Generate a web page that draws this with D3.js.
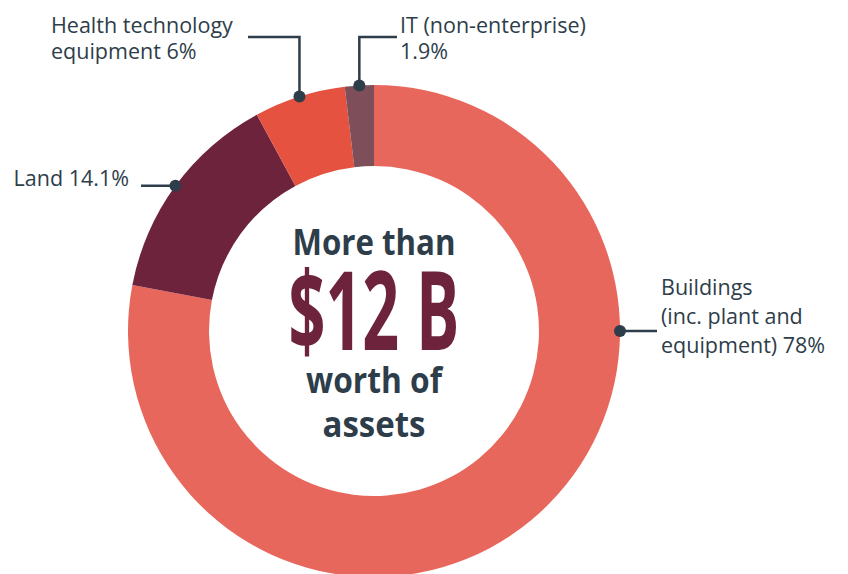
<!DOCTYPE html>
<html lang="en">

<head>
    <meta charset="UTF-8">
    <title>Asset breakdown</title>
    <style>
        body { margin: 0; background: #fff; }
    </style>
</head>

<body>
    <script src="https://cdn.jsdelivr.net/npm/d3@7"></script>
    <script>
        const svg_w = 848;
        const svg_h = 574;

        // data
        const categories = ['Buildings', 'Land', 'Health technology equipment', 'IT (non-enterprise)'];
        const shares = [78, 14.1, 6, 1.9];
        const colours = ['#e8675c', '#6e233c', '#e55240', '#7e4f5a'];
        const label_lines = [
            ['Buildings', '(inc. plant and', 'equipment) 78%'],
            ['Land 14.1%'],
            ['Health technology', 'equipment 6%'],
            ['IT (non-enterprise)', '1.9%']
        ];
        const centre_lines = ['More than', '$12 B', 'worth of', 'assets'];

        const cx = 374, cy = 331;
        const r_out = 246, r_in = 165;
        const ink = '#2e3d4a';

        const svg = d3.select('body')
            .append('svg')
            .attr('width', svg_w)
            .attr('height', svg_h);

        const pie = d3.pie().sort(null).value(d => d)(shares);
        const arc = d3.arc().innerRadius(r_in).outerRadius(r_out);

        const g = svg.append('g').attr('transform', `translate(${cx},${cy})`);

        g.selectAll('path')
            .data(pie)
            .enter()
            .append('path')
            .attr('d', arc)
            .attr('fill', (d, i) => colours[i]);

        // label layout: anchor angle (null = middle of slice), leader route, text spot
        const layout = [
            { angle: Math.PI / 2, leader: p => [[p[0], p[1]], [657, p[1]]], x: 661, y: 295, dy: 29, anchor: 'start' },
            { angle: null, leader: p => [[p[0], p[1]], [141, p[1]]], x: 129, y: 186, dy: 26, anchor: 'end' },
            { angle: null, leader: p => [[p[0], p[1]], [p[0], 37], [248, 37]], x: 51, y: 33, dy: 25.5, anchor: 'start' },
            { angle: null, leader: p => [[p[0], p[1]], [p[0], 37], [397, 37]], x: 400, y: 33, dy: 25.5, anchor: 'start' }
        ];

        pie.forEach((d, i) => {
            const L = layout[i];
            const a = L.angle === null ? (d.startAngle + d.endAngle) / 2 : L.angle;
            const p = [cx + r_out * Math.sin(a), cy - r_out * Math.cos(a)];

            svg.append('path')
                .attr('d', d3.line()(L.leader(p)))
                .attr('fill', 'none')
                .attr('stroke', ink)
                .attr('stroke-width', 2.5);

            svg.append('circle')
                .attr('cx', p[0])
                .attr('cy', p[1])
                .attr('r', 6)
                .attr('fill', ink);

            const t = svg.append('text')
                .attr('x', L.x)
                .attr('y', L.y)
                .attr('text-anchor', L.anchor)
                .attr('font-family', 'Open Sans, sans-serif')
                .attr('font-size', 21.5)
                .attr('fill', ink);

            label_lines[i].forEach((line, j) => {
                t.append('tspan')
                    .attr('x', L.x)
                    .attr('y', L.y + j * L.dy)
                    .text(line);
            });
        });

        // centre text
        const centre_style = [
            { y: 255, size: 35, w: 163, fill: ink },
            { y: 350, size: 110, w: 171, fill: '#6e233c' },
            { y: 393, size: 35, w: 136, fill: ink },
            { y: 437, size: 35, w: 103, fill: ink }
        ];

        centre_lines.forEach((line, i) => {
            const s = centre_style[i];
            svg.append('text')
                .attr('x', cx)
                .attr('y', s.y)
                .attr('text-anchor', 'middle')
                .attr('font-family', 'Open Sans, sans-serif')
                .attr('font-weight', 700)
                .attr('font-size', s.size)
                .attr('textLength', s.w)
                .attr('lengthAdjust', 'spacingAndGlyphs')
                .attr('fill', s.fill)
                .text(line);
        });
    </script>
</body>

</html>
